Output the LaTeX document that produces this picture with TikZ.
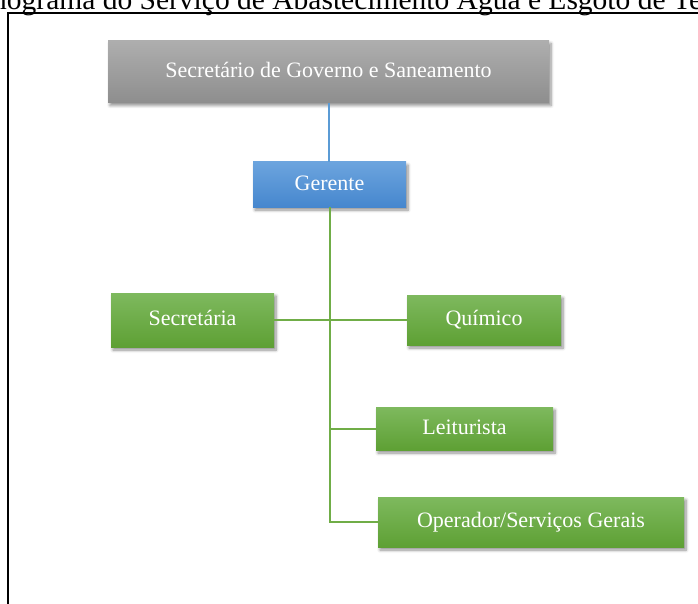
\documentclass[tikz,border=0pt]{standalone}
\usepackage{fontspec}
\setmainfont{Liberation Serif}
\usetikzlibrary{shadows.blur}

\definecolor{grayTop}{RGB}{174,174,174}
\definecolor{grayBot}{RGB}{142,142,142}
\definecolor{blueTop}{RGB}{108,164,222}
\definecolor{blueBot}{RGB}{70,135,206}
\definecolor{greenTop}{RGB}{126,185,94}
\definecolor{greenBot}{RGB}{94,160,52}
\definecolor{blueLine}{RGB}{91,155,213}
\definecolor{greenLine}{RGB}{112,173,71}

\begin{document}
\begin{tikzpicture}[x=1pt,y=-1pt,
  orgbox/.style={rectangle, inner sep=0pt, text=white,
    font=\fontsize{22}{26}\selectfont, text height=16pt, text depth=4.5pt,
    blur shadow={shadow xshift=2pt, shadow yshift=-3pt,
      shadow blur steps=6, shadow blur radius=3pt, shadow opacity=45}},
  graybox/.style={orgbox, top color=grayTop, bottom color=grayBot},
  bluebox/.style={orgbox, top color=blueTop, bottom color=blueBot},
  greenbox/.style={orgbox, top color=greenTop, bottom color=greenBot},
  blink/.style={draw=blueLine, line width=2pt},
  glink/.style={draw=greenLine, line width=2pt},
  frameline/.style={draw=black, line width=1.6pt}
]
\useasboundingbox (0,0) rectangle (698,604);
\clip (0,0) rectangle (698,604);

% heading of the page, running past the edges
\node[anchor=base west, inner sep=0pt, font=\fontsize{29.5}{34}\selectfont]
  (heading) at (-8,10) {nograma do Serviço de Abastecimento Água e Esgoto de Te};

% outer frame
\draw[frameline] (8,700) -- (8,13) -- (720,13);

% boxes
\node[graybox, minimum width=441pt, minimum height=62pt] (sec) at (328.5,71.5)
  {Secretário de Governo e Saneamento};
\node[bluebox, minimum width=153pt, minimum height=45pt] (ger) at (329.5,184.5)
  {Gerente};
\node[greenbox, minimum width=163pt, minimum height=54pt] (secr) at (192.5,320)
  {Secretária};
\node[greenbox, minimum width=154pt, minimum height=50pt] (qui) at (484,320)
  {Químico};
\node[greenbox, minimum width=177pt, minimum height=43pt] (lei) at (464.5,428.5)
  {Leiturista};
\node[greenbox, minimum width=306pt, minimum height=50pt] (op) at (531,522)
  {Operador/Serviços Gerais};

% connectors
\coordinate (trunkTop) at (ger.south);
\coordinate (trunkEnd) at (ger.south |- op.west);
\coordinate (leiJoin) at (ger.south |- lei.west);
\draw[blink] (sec.south) -- (sec.south |- ger.north);
\draw[glink] (secr.east) -- (qui.west);
\draw[glink] (leiJoin) -- (lei.west);
\draw[glink] (trunkTop) -- (trunkEnd) -- (op.west);
\end{tikzpicture}
\end{document}
